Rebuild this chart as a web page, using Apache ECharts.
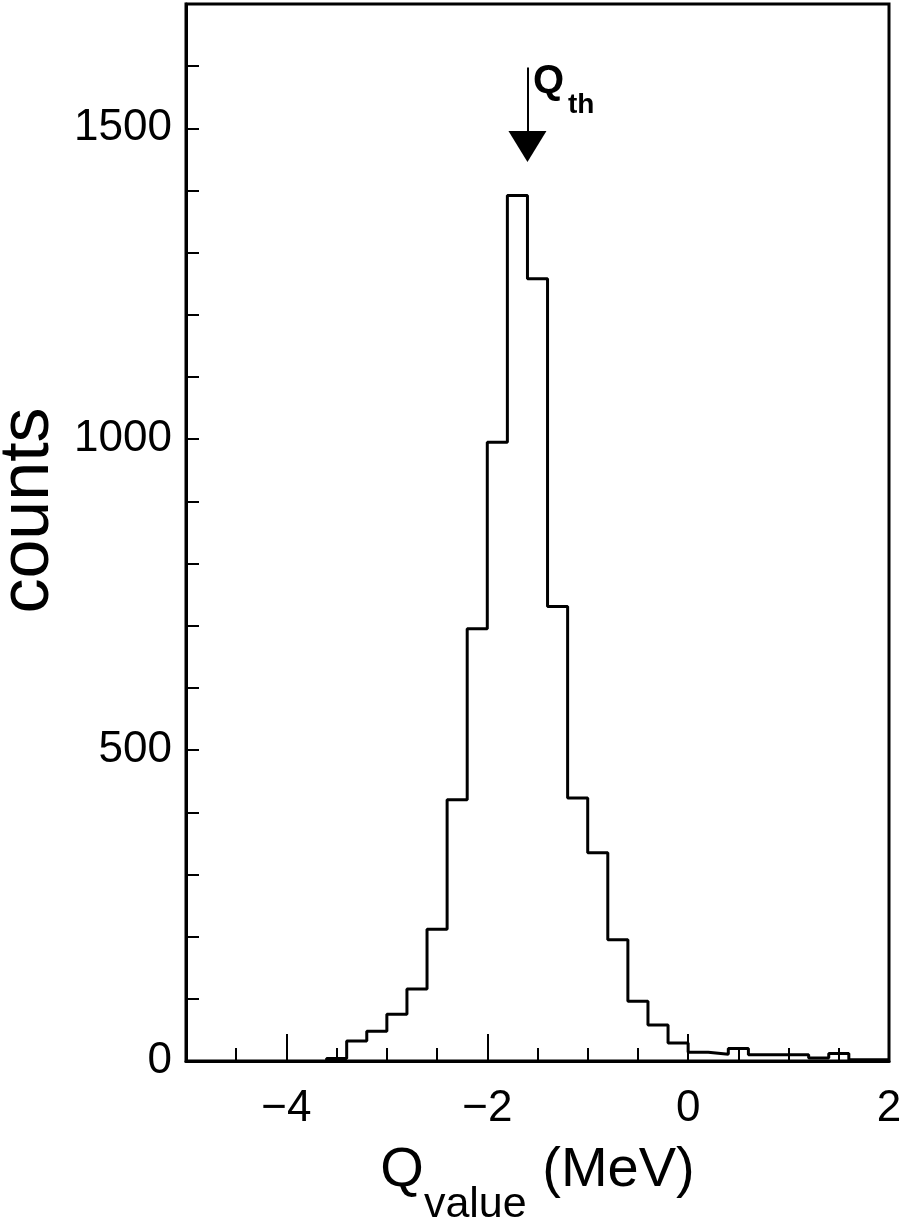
<!DOCTYPE html>
<html>
<head>
<meta charset="utf-8">
<script src="https://cdn.jsdelivr.net/npm/echarts@6/dist/echarts.min.js"></script>
<style>
  html, body { margin: 0; padding: 0; background: #fff; }
  #main { width: 902px; height: 1231px; }
</style>
</head>
<body>
<div id="main"></div>
<script>
// bin edges of the Q-value histogram (MeV) and counts per bin
var binEdges = [-3.6, -3.4, -3.2, -3.0, -2.8, -2.6, -2.4, -2.2, -2.0, -1.8,
  -1.6, -1.4, -1.2, -1.0, -0.8, -0.6, -0.4, -0.2, 0.0, 0.2,
  0.4, 0.6, 0.8, 1.0, 1.2, 1.4, 1.6, 1.8, 2.0];
var counts = [4, 32, 48, 75, 116, 212, 420, 695, 995, 1392,
  1258, 731, 423, 335, 195, 96, 58, 29, 14, 11,
  20, 10, 10, 10, 5, 12, 2, 2];
var xLabelTicks = [-4, -2, 0, 2];
var yLabelTicks = [0, 500, 1000, 1500];
var qThreshold = -1.6;

// outline of the histogram as a stepped line
var stepData = [[binEdges[0], 0]];
for (var i = 0; i < counts.length; i++) {
  stepData.push([binEdges[i], counts[i]]);
}
stepData.push([binEdges[binEdges.length - 1], counts[counts.length - 1]]);

var font = 'Liberation Sans, Arial, sans-serif';
var gridBox = { left: 186, right: 13, top: 4, bottom: 170, outerBoundsMode: 'none', containLabel: false };

var myChart = echarts.init(document.getElementById('main'));
var option = {
  animation: false,
  backgroundColor: '#fff',
  grid: [
    Object.assign({ show: true, borderColor: '#000', borderWidth: 3 }, gridBox),
    Object.assign({ show: false }, gridBox)
  ],
  xAxis: [{
    type: 'value', gridIndex: 0, min: -5, max: 2, interval: 0.5,
    axisLine: { onZero: false, lineStyle: { color: '#000', width: 3 } },
    axisTick: { inside: true, length: 13, lineStyle: { color: '#000', width: 2 } },
    splitLine: { show: false },
    axisLabel: {
      color: '#000', fontFamily: font, fontSize: 44, margin: 26,
      formatter: function (v) {
        for (var k = 0; k < xLabelTicks.length; k++) {
          if (Math.abs(v - xLabelTicks[k]) < 1e-9) return String(v).replace('-', '\u2212');
        }
        return '';
      }
    },
    name: '{q|Q}{s|value}{q| (MeV)}',
    nameLocation: 'middle', nameGap: 82,
    nameTextStyle: {
      verticalAlign: 'top',
      rich: {
        q: { fontFamily: font, fontSize: 56, color: '#000', lineHeight: 64, verticalAlign: 'top' },
        s: { fontFamily: font, fontSize: 43, color: '#000', lineHeight: 84, verticalAlign: 'bottom' }
      }
    }
  }, {
    type: 'value', gridIndex: 1, min: -5, max: 2, interval: 1,
    axisLine: { show: false, onZero: false },
    axisTick: { inside: true, length: 27, customValues: xLabelTicks, lineStyle: { color: '#000', width: 2 } },
    axisLabel: { show: false },
    splitLine: { show: false }
  }],
  yAxis: [{
    type: 'value', gridIndex: 0, min: 0, max: 1700, interval: 100,
    axisLine: { show: true, onZero: false, lineStyle: { color: '#000', width: 3 } },
    axisTick: { show: true, inside: true, length: 13, lineStyle: { color: '#000', width: 2 } },
    splitLine: { show: false },
    axisLabel: {
      color: '#000', fontFamily: font, fontSize: 44, margin: 14,
      formatter: function (v) { return yLabelTicks.indexOf(v) >= 0 ? String(v) : ''; }
    },
    name: 'counts', nameLocation: 'middle', nameGap: 118,
    nameTextStyle: { color: '#000', fontFamily: font, fontSize: 70, padding: [0, 0, 0, 44] }
  }, {
    type: 'value', gridIndex: 1, min: 0, max: 1700, show: false,
    axisLine: { onZero: false }
  }],
  series: [{
    type: 'line',
    xAxisIndex: 0, yAxisIndex: 0,
    step: 'end',
    data: stepData,
    showSymbol: false,
    lineStyle: { color: '#000', width: 3 },
    markLine: {
      silent: true,
      label: { show: false },
      lineStyle: { color: '#000', width: 2, type: 'solid' },
      symbolSize: [38, 31],
      data: [[
        { coord: [qThreshold, 1598], symbol: 'none' },
        { coord: [qThreshold, 1471], symbol: 'triangle' }
      ]]
    }
  }],
  graphic: [{
    type: 'text', left: 533, top: 62,
    style: { text: 'Q', font: 'bold 40px ' + font, fill: '#000' }
  }, {
    type: 'text', left: 568, top: 91,
    style: { text: 'th', font: 'bold 28px ' + font, fill: '#000' }
  }]
};
myChart.setOption(option);
</script>
</body>
</html>
